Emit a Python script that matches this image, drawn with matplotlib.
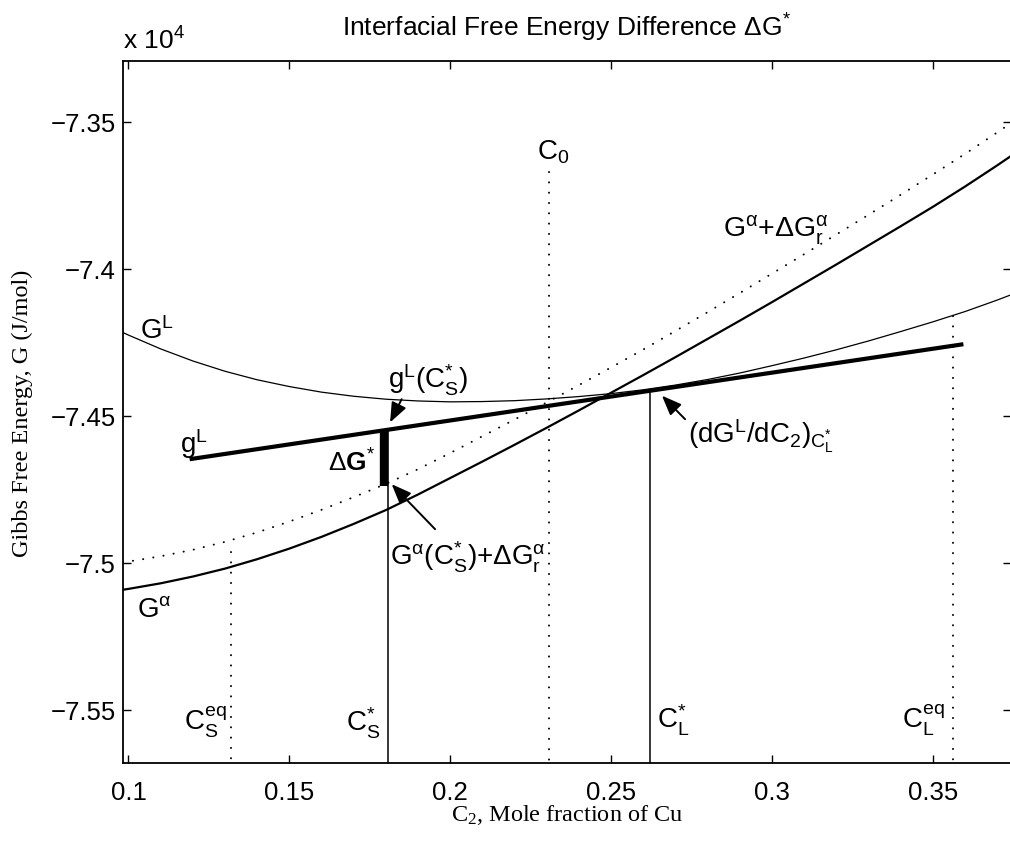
import matplotlib
matplotlib.use("Agg")
import matplotlib.pyplot as plt
from matplotlib.ticker import FuncFormatter, FixedLocator

plt.rcParams['font.family'] = ['Liberation Sans', 'DejaVu Sans']
plt.rcParams['mathtext.fontset'] = 'custom'
plt.rcParams['mathtext.rm'] = 'Liberation Sans'
plt.rcParams['mathtext.it'] = 'Liberation Sans'
plt.rcParams['mathtext.bf'] = 'Liberation Sans:bold'
plt.rcParams['mathtext.default'] = 'regular'

# ---------------- data (G in units of 1e4 J/mol) ----------------
GL_x = [0.0982, 0.10, 0.11, 0.12, 0.13, 0.14, 0.15, 0.16, 0.17, 0.18, 0.19, 0.20, 0.21, 0.22,
        0.23, 0.24, 0.25, 0.26, 0.27, 0.28, 0.29, 0.30, 0.31, 0.32, 0.33, 0.34, 0.35, 0.36, 0.37, 0.3743]
GL_y = [-7.4217, -7.4226, -7.4273, -7.4314, -7.4349, -7.4378, -7.4401, -7.4420, -7.4434, -7.4444,
        -7.4450, -7.4453, -7.4452, -7.4449, -7.4443, -7.4435, -7.4425, -7.4412, -7.4396, -7.4377,
        -7.4355, -7.4330, -7.4304, -7.4276, -7.4246, -7.4214, -7.4181, -7.4146, -7.4107, -7.4089]

Ga_x = [0.0982, 0.10, 0.11, 0.12, 0.13, 0.14, 0.15, 0.16, 0.17, 0.18, 0.19, 0.20, 0.21, 0.22,
        0.23, 0.24, 0.25, 0.26, 0.27, 0.28, 0.29, 0.30, 0.31, 0.32, 0.33, 0.34, 0.35, 0.36, 0.37, 0.3743]
Ga_y = [-7.5092, -7.5089, -7.5070, -7.5047, -7.5020, -7.4988, -7.4952, -7.4912, -7.4868, -7.4821,
        -7.4768, -7.4712, -7.4656, -7.4599, -7.4541, -7.4482, -7.4422, -7.4362, -7.4301, -7.4239,
        -7.4177, -7.4114, -7.4050, -7.3986, -7.3921, -7.3856, -7.3790, -7.3721, -7.3649, -7.3617]

Gar_x = [0.0982, 0.10, 0.11, 0.12, 0.13, 0.14, 0.15, 0.16, 0.17, 0.18, 0.19, 0.20, 0.21, 0.22,
         0.23, 0.24, 0.25, 0.26, 0.27, 0.28, 0.29, 0.30, 0.31, 0.32, 0.33, 0.34, 0.35, 0.36, 0.37, 0.3743]
Gar_y = [-7.4999, -7.4996, -7.4978, -7.4956, -7.4929, -7.4897, -7.4860, -7.4820, -7.4777, -7.4732,
         -7.4682, -7.4627, -7.4570, -7.4513, -7.4455, -7.4396, -7.4336, -7.4275, -7.4212, -7.4148,
         -7.4083, -7.4017, -7.3951, -7.3884, -7.3817, -7.3749, -7.3680, -7.3610, -7.3537, -7.3505]

gL_x = [0.1190, 0.3595]
gL_y = [-7.4648, -7.4257]

C0 = 0.2307
CS_eq = 0.1319
CL_eq = 0.3562
CS_star = 0.1808
CL_star = 0.2620
C0_top = -7.3673
CSeq_top = -7.4964
CLeq_top = -7.4162
gL_at_CS = -7.4549
Gar_at_CS = -7.4739
gL_at_CL = -7.4417

xticks = [0.1, 0.15, 0.2, 0.25, 0.3, 0.35]
yticks = [-7.55, -7.5, -7.45, -7.4, -7.35]
xlim = (0.0982, 0.3743)
ylim = (-7.5681, -7.3293)

# ---------------- figure ----------------
fig = plt.figure(figsize=(10.10, 8.45), dpi=100)
ax = fig.add_axes([0.12149, 0.09586, 0.8795, 0.83112])
ax.set_xlim(*xlim)
ax.set_ylim(*ylim)

dot = (0, (0.1, 5.2))
ax.plot(GL_x, GL_y, color='k', lw=0.9)
ax.plot(Ga_x, Ga_y, color='k', lw=1.6)
ax.plot(Gar_x, Gar_y, color='k', lw=1.4, linestyle=dot, dash_capstyle='round')
ax.plot(gL_x, gL_y, color='k', lw=3.0, solid_capstyle='butt')

bot = ylim[0]
ax.plot([C0, C0], [C0_top, bot], color='k', lw=1.4, linestyle=dot, dash_capstyle='round')
ax.plot([CS_eq, CS_eq], [CSeq_top, bot], color='k', lw=1.4, linestyle=dot, dash_capstyle='round')
ax.plot([CL_eq, CL_eq], [CLeq_top, bot], color='k', lw=1.4, linestyle=dot, dash_capstyle='round')
ax.plot([CS_star, CS_star], [gL_at_CS, bot], color='k', lw=1.1)
ax.plot([CL_star, CL_star], [gL_at_CL, bot], color='k', lw=1.1)
ax.plot([CS_star - 0.0013, CS_star - 0.0013], [gL_at_CS, Gar_at_CS], color='k', lw=6, solid_capstyle='butt')

# arrows
ap = dict(arrowstyle='-|>,head_length=0.6,head_width=0.24', color='k', lw=1.4,
          mutation_scale=20, shrinkA=0, shrinkB=0)
ax.annotate('', xy=(0.1813, -7.4523), xytext=(0.1849, -7.4444), arrowprops=ap)
ax.annotate('', xy=(0.1818, -7.4733), xytext=(0.1953, -7.4886), arrowprops=ap)
ax.annotate('', xy=(0.2658, -7.4432), xytext=(0.2730, -7.4512), arrowprops=ap)

fs = 20
ax.text(0.1036, -7.4235, r'$G^L$', fontsize=fs, va='baseline', ha='left')
ax.text(0.1160, -7.4625, r'$g^L$', fontsize=fs, va='baseline', ha='left')
ax.text(0.1027, -7.5180, r'$G^{\alpha}$', fontsize=fs, va='baseline', ha='left')
ax.text(0.1766, -7.4687, r'$\Delta\mathbf{G}^{*}$', fontsize=19, va='baseline', ha='right')
ax.text(0.2270, -7.3625, r'$C_0$', fontsize=fs, va='baseline', ha='left')
ax.text(0.1807, -7.4403, r'$g^L(C_S^{*})$', fontsize=fs, va='baseline', ha='left')
ax.text(0.1813, -7.5005, r'$G^{\alpha}(C_S^{*})$+$\Delta G_r^{\alpha}$', fontsize=fs, va='baseline', ha='left')
ax.text(0.2740, -7.4591, r'$(dG^L/dC_2)_{C_L^{*}}$', fontsize=20, va='baseline', ha='left')
ax.text(0.2849, -7.3888, r'$G^{\alpha}$+$\Delta G_r^{\alpha}$', fontsize=20.5, va='baseline', ha='left')
ax.text(0.1307, -7.5566, r'$C_S^{eq}$', fontsize=fs, va='baseline', ha='right')
ax.text(0.1676, -7.5571, r'$C_S^{*}$', fontsize=fs, va='baseline', ha='left')
ax.text(0.2642, -7.5560, r'$C_L^{*}$', fontsize=fs, va='baseline', ha='left')
ax.text(0.3404, -7.5560, r'$C_L^{eq}$', fontsize=fs, va='baseline', ha='left')

# axes styling
ax.xaxis.set_major_locator(FixedLocator(xticks))
ax.yaxis.set_major_locator(FixedLocator(yticks))
fmt = FuncFormatter(lambda v, p: ('%g' % v).replace('-', '\u2212'))
ax.xaxis.set_major_formatter(fmt)
ax.yaxis.set_major_formatter(fmt)
ax.tick_params(direction='in', length=6, width=1.0, top=True, right=True, labelsize=18.5)
ax.tick_params(axis='x', pad=12)
ax.tick_params(axis='y', pad=5)
for s in ax.spines.values():
    s.set_linewidth(1.3)

ax.set_xlabel(r'C$_2$, Mole fraction of Cu', family='Liberation Serif', fontsize=17.5,
              math_fontfamily='stix')
ax.xaxis.set_label_coords(0.5, -0.055)
ax.xaxis.label.set_verticalalignment('top')
ax.set_ylabel('Gibbs Free Energy, G (J/mol)', family='Liberation Serif', fontsize=17.5)
ax.yaxis.set_label_coords(-0.101, 0.5)

ax.set_title(r'Interfacial Free Energy Difference $\Delta G^{*}$', fontsize=19, pad=18)
fig.text(122.7 / 1010, (845 - 50) / 845, r'x 10$^4$', fontsize=19, va='baseline', ha='left')

fig.savefig('out.png', dpi=100)
